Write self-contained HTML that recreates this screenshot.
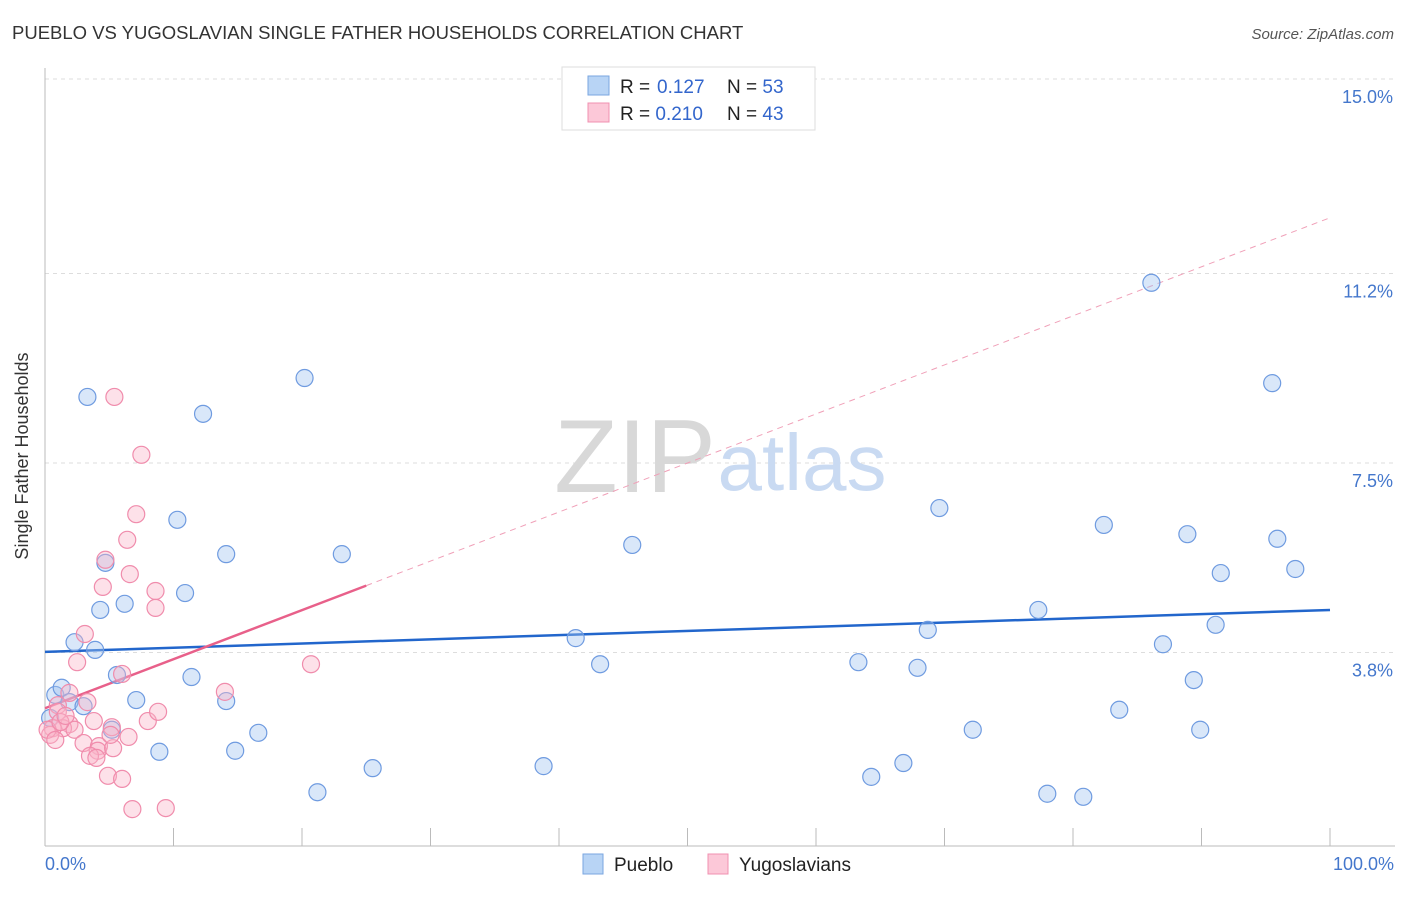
<!DOCTYPE html>
<html><head><meta charset="utf-8"><style>
body{margin:0;background:#fff;font-family:"Liberation Sans",sans-serif;}
svg text{font-family:"Liberation Sans",sans-serif;}
</style></head><body>
<svg id="chart" width="1406" height="892" xmlns="http://www.w3.org/2000/svg">
<text x="12" y="39" font-size="18.5" fill="#333">PUEBLO VS YUGOSLAVIAN SINGLE FATHER HOUSEHOLDS CORRELATION CHART</text>
<text x="1394" y="39" font-size="15" fill="#555" font-style="italic" text-anchor="end">Source: ZipAtlas.com</text>
<g id="grid"></g>
<g>
<text x="635" y="492" font-size="104" font-family="Liberation Serif" fill="#d8d8d8" text-anchor="middle">ZIP</text>
<text x="802" y="490" font-size="80" fill="#c9daf2" text-anchor="middle">atlas</text>
</g>
<line x1="45" y1="68" x2="45" y2="846" stroke="#bbb"/>
<line x1="45" y1="846" x2="1395" y2="846" stroke="#bbb"/>
<g id="ticks"></g>
<text x="28" y="456" font-size="18" fill="#333" text-anchor="middle" transform="rotate(-90 28 456)">Single Father Households</text>
<text x="45" y="870" font-size="18" fill="#4477cc">0.0%</text>
<text x="1394" y="870" font-size="18" fill="#4477cc" text-anchor="end">100.0%</text>
<g id="lines"></g>
<g id="pts"></g>
<g>
<rect x="562" y="67" width="253" height="63" fill="#fff" stroke="#ddd"/>
<rect x="588" y="76" width="21" height="19" fill="#b8d4f5" stroke="#7aa6e0"/>
<rect x="588" y="103" width="21" height="19" fill="#fcc8d8" stroke="#f090b0"/>
<text x="620" y="93" font-size="19" fill="#222">R = <tspan x="657" fill="#3366cc">0.127</tspan><tspan x="727">N = </tspan><tspan fill="#3366cc">53</tspan></text>
<text x="620" y="120" font-size="19" fill="#222">R = <tspan fill="#3366cc">0.210</tspan><tspan x="727">N = </tspan><tspan fill="#3366cc">43</tspan></text>
</g>
<g>
<rect x="583" y="854" width="20" height="20" fill="#b8d4f5" stroke="#7aa6e0"/>
<text x="614" y="871" font-size="19" fill="#222">Pueblo</text>
<rect x="708" y="854" width="20" height="20" fill="#fcc8d8" stroke="#f090b0"/>
<text x="739" y="871" font-size="19" fill="#222">Yugoslavians</text>
</g>
</svg>
<script>
const yTicks=[3.8,7.5,11.2,15.0];
const yTickLabels=["3.8%","7.5%","11.2%","15.0%"];
const blueX=[3.3,20.2,12.3,10.3,14.1,23.1,4.7,45.7,10.9,6.2,4.3,2.3,3.9,41.3,43.2,5.6,11.4,0.8,1.3,1.9,3.0,7.1,14.1,5.2,16.6,8.9,14.8,25.5,38.8,21.2,63.3,67.9,68.7,69.6,72.2,64.3,66.8,77.3,78.0,80.8,82.4,83.6,86.1,87.0,88.9,89.4,89.9,91.1,91.5,95.5,95.9,97.3,0.4];
const blueY=[8.79,9.16,8.46,6.39,5.72,5.72,5.55,5.90,4.96,4.75,4.63,4.00,3.85,4.08,3.57,3.36,3.32,2.97,3.11,2.83,2.75,2.87,2.85,2.29,2.23,1.86,1.88,1.54,1.58,1.07,3.61,3.50,4.24,6.62,2.29,1.37,1.64,4.63,1.04,0.98,6.29,2.68,11.02,3.96,6.11,3.26,2.29,4.34,5.35,9.06,6.02,5.43,2.52];
const pinkX=[5.4,7.5,7.1,6.4,4.7,6.6,4.5,8.6,8.6,3.1,2.5,20.7,6.0,1.9,14.0,3.3,1.0,3.8,8.0,8.8,1.9,1.4,2.3,0.6,0.4,0.2,5.2,6.5,3.0,4.2,4.1,5.3,3.5,4.0,4.9,6.0,6.8,9.4,1.0,1.2,1.6,0.8,5.1];
const pinkY=[8.79,7.66,6.50,6.0,5.61,5.33,5.08,5.0,4.67,4.16,3.61,3.57,3.38,3.01,3.03,2.83,2.77,2.46,2.46,2.64,2.40,2.32,2.29,2.32,2.19,2.29,2.34,2.15,2.03,1.97,1.88,1.93,1.78,1.74,1.39,1.33,0.74,0.76,2.64,2.44,2.56,2.09,2.19];
const blueTrend=[3.81,4.63];
const pinkTrend=[2.71,12.29];
const pinkSolidEnd=25;
const xs=v=>45+v*12.85;
const ys=v=>79+(15-v)*51.2;
const NS="http://www.w3.org/2000/svg";
function mk(t,a,p){const e=document.createElementNS(NS,t);for(const k in a)e.setAttribute(k,a[k]);p.appendChild(e);return e;}
const grid=document.getElementById('grid');
yTicks.forEach((t,i)=>{
 const l=mk('line',{x1:45,x2:1395,y1:ys(t),y2:ys(t),stroke:'#ddd','stroke-dasharray':'4,4'},grid);
 
 
 const tx=mk('text',{x:1393,y:ys(t)+24,'font-size':18,fill:'#4477cc','text-anchor':'end'},grid);
 tx.textContent=yTickLabels[i];
 
 
});
const ticks=document.getElementById('ticks');
for(let i=1;i<=10;i++){const l=mk('line',{x1:xs(i*10),x2:xs(i*10),y1:828,y2:846,stroke:'#bbb'},ticks);
 
 }
const lines=document.getElementById('lines');
const bl=mk('line',{x1:xs(0),y1:ys(blueTrend[0]),x2:xs(100),y2:ys(blueTrend[1]),stroke:'#2266cc','stroke-width':2.5},lines);


const pAt=x=>pinkTrend[0]+(pinkTrend[1]-pinkTrend[0])*x/100;
const pd=mk('line',{x1:xs(pinkSolidEnd),y1:ys(pAt(pinkSolidEnd)),x2:xs(100),y2:ys(pinkTrend[1]),stroke:'#f0a0b8','stroke-width':1,'stroke-dasharray':'6,5'},lines);


const ps=mk('line',{x1:xs(0),y1:ys(pinkTrend[0]),x2:xs(pinkSolidEnd),y2:ys(pAt(pinkSolidEnd)),stroke:'#e8608a','stroke-width':2.5},lines);


const pts=document.getElementById('pts');
blueX.forEach((x,i)=>{const c=mk('circle',{cx:xs(x),cy:ys(blueY[i]),r:8.5,fill:'rgba(160,195,240,0.4)',stroke:'#6f9be0','stroke-width':1.2},pts);
 
 });
pinkX.forEach((x,i)=>{const c=mk('circle',{cx:xs(x),cy:ys(pinkY[i]),r:8.5,fill:'rgba(250,180,200,0.4)',stroke:'#f08cac','stroke-width':1.2},pts);
 
 });
</script>
</body></html>
